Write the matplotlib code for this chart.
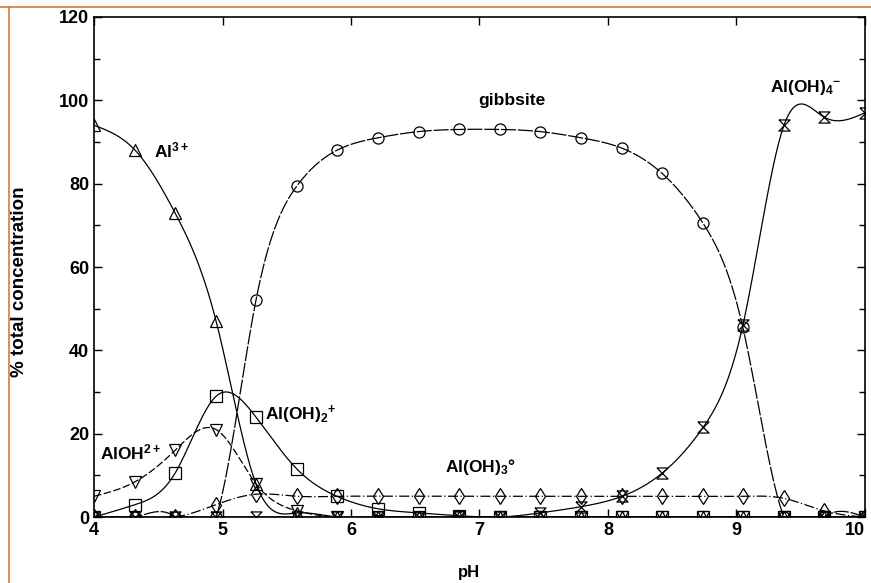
import numpy as np
import matplotlib.pyplot as plt
from matplotlib.lines import Line2D

plt.rcParams['font.family'] = ['Liberation Sans', 'DejaVu Sans']
plt.rcParams['mathtext.default'] = 'regular'

# pH values of the computed points
ph = [4.0, 4.32, 4.63, 4.95, 5.26, 5.58, 5.89, 6.21, 6.53, 6.84,
      7.16, 7.47, 7.79, 8.11, 8.42, 8.74, 9.05, 9.37, 9.68, 10.0]

al3 = [94, 88, 73, 47, 8, 1, 0, 0, 0, 0,
       0, 0, 0, 0, 0, 0, 0, 0, 0, 0]
aloh = [5, 8.5, 16, 21, 8, 1.5, 0, 0, 0, 0,
        0, 0, 0, 0, 0, 0, 0, 0, 0, 0]
aloh2 = [0, 3, 10.5, 29, 24, 11.5, 5, 2, 1, 0.3,
         0, 0, 0, 0, 0, 0, 0, 0, 0, 0]
aloh3 = [0, 0, 0, 3, 5.5, 5, 5, 5, 5, 5,
         5, 5, 5, 5, 5, 5, 5, 4.5, 1.5, 0]
gibbsite = [0, 0, 0, 0, 52, 79.5, 88, 91, 92.5, 93,
            93, 92.5, 91, 88.5, 82.5, 70.5, 45.5, 0, 0, 0]
aloh4 = [0, 0, 0, 0, 0, 0, 0, 0, 0, 0,
         0, 1, 2.5, 5, 10.5, 21.5, 46, 94, 96, 97]


def natural_spline(x, y, xs):
    x = np.asarray(x, float)
    y = np.asarray(y, float)
    n = len(x)
    h = np.diff(x)
    A = np.zeros((n, n))
    r = np.zeros(n)
    A[0, 0] = 1
    A[-1, -1] = 1
    for i in range(1, n - 1):
        A[i, i - 1] = h[i - 1]
        A[i, i] = 2 * (h[i - 1] + h[i])
        A[i, i + 1] = h[i]
        r[i] = 3 * ((y[i + 1] - y[i]) / h[i] - (y[i] - y[i - 1]) / h[i - 1])
    c = np.linalg.solve(A, r)
    b = (y[1:] - y[:-1]) / h - h * (2 * c[:-1] + c[1:]) / 3
    d = (c[1:] - c[:-1]) / (3 * h)
    idx = np.clip(np.searchsorted(x, xs) - 1, 0, n - 2)
    t = xs - x[idx]
    return y[idx] + b[idx] * t + c[idx] * t ** 2 + d[idx] * t ** 3


hourglass = [(-1, 1), (1, 1), (-1, -1), (1, -1), (-1, 1)]

series = [
    (al3, '^', '-'),
    (aloh, 'v', (0, (6, 2))),
    (aloh2, 's', '-'),
    (aloh3, 'd', (0, (8, 2, 1, 2))),
    (gibbsite, 'o', (0, (12, 1.5))),
    (aloh4, hourglass, '-'),
]

fig = plt.figure(figsize=(8.71, 5.83), dpi=100)
ax = fig.add_axes([0.108, 0.113, 0.885, 0.858])

xs = np.linspace(4, 10, 600)
for vals, mk, ls in series:
    ax.plot(xs, natural_spline(ph, vals, xs), color='black', lw=0.9, ls=ls)
    ax.plot(ph, vals, ls='none', marker=mk, mfc='none', mec='black',
            ms=8, mew=0.9)

ax.set_xlim(4, 10)
ax.set_ylim(0, 120)
ax.set_xticks([4, 5, 6, 7, 8, 9, 10])
ax.set_yticks([0, 20, 40, 60, 80, 100, 120])
ax.set_yticks([10, 30, 50, 70, 90, 110], minor=True)
ax.tick_params(which='both', direction='in', top=True, right=True,
               labelsize=13, width=1)
ax.tick_params(which='major', length=6)
ax.tick_params(which='minor', length=4)
for lab in ax.get_xticklabels() + ax.get_yticklabels():
    lab.set_fontweight('bold')
ax.get_xticklabels()[-1].set_horizontalalignment('right')
for sp in ax.spines.values():
    sp.set_linewidth(1.2)

ax.set_xlabel('pH', fontsize=12, fontweight='bold')
ax.xaxis.set_label_coords(0.487, -0.095)
ax.set_ylabel('% total concentration', fontsize=13.5, fontweight='bold')
ax.yaxis.set_label_coords(-0.086, 0.47)

tk = dict(fontsize=12.5, fontweight='bold', color='black')
ax.text(7.25, 100, 'gibbsite', ha='center', va='center', **tk)
ax.text(4.47, 88, 'Al$^{3+}$', ha='left', va='center', **tk)
ax.text(4.05, 15.5, 'AlOH$^{2+}$', ha='left', va='center', **tk)
ax.text(5.33, 24.5, 'Al(OH)$_2$$^{+}$', ha='left', va='center', **tk)
ax.text(6.73, 12, 'Al(OH)$_3$°', ha='left', va='center', **tk)
ax.text(9.26, 103, 'Al(OH)$_4$$^{-}$', ha='left', va='center', **tk)

# orange border of the original screenshot
fig.add_artist(Line2D([0, 1], [0.988, 0.988], color='#d9793a', lw=1.2,
                      transform=fig.transFigure))
fig.add_artist(Line2D([0.010, 0.010], [0, 0.988], color='#d9793a', lw=1.2,
                      transform=fig.transFigure))

fig.savefig('out.png', dpi=100)
plt.close()
